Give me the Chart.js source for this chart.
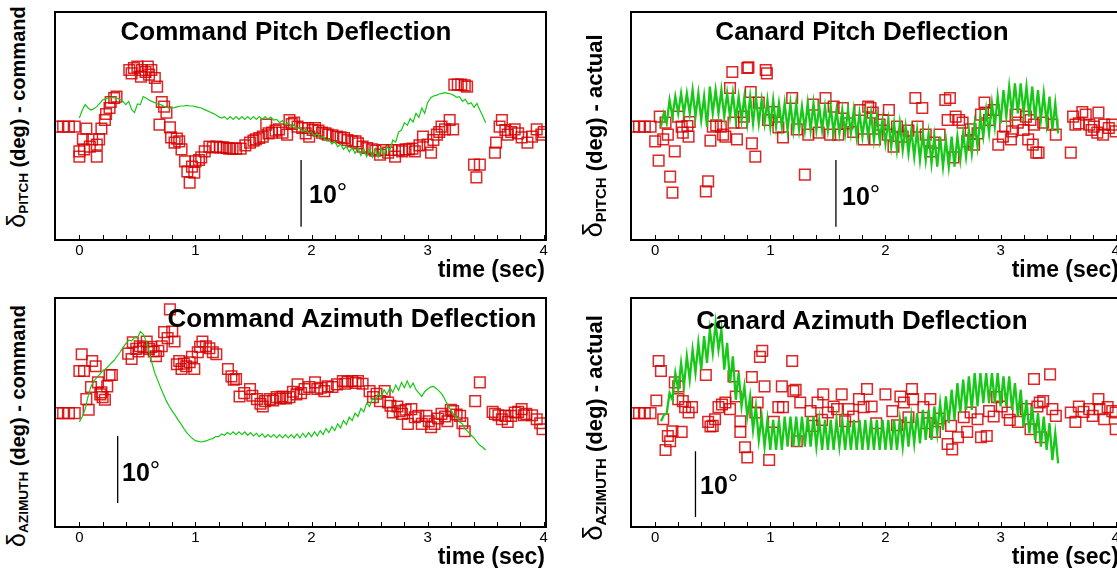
<!DOCTYPE html>
<html>
<head>
<meta charset="utf-8">
<script src="https://cdn.jsdelivr.net/npm/chart.js@4"></script>
<style>
  body { margin: 0; width: 1117px; height: 568px; overflow: hidden; background: #fff;
         font-family: 'Liberation Sans', Arial, sans-serif; color: #000; }
  canvas { position: absolute; }
  .title { position: absolute; font-weight: bold; font-size: 26px; line-height: 26px; white-space: nowrap; transform: translateX(-50%); }
  .xlab { position: absolute; font-weight: bold; font-size: 23px; line-height: 23px; white-space: nowrap; transform: translateX(-100%); }
  .bar { position: absolute; font-weight: bold; font-size: 25px; line-height: 25px; white-space: nowrap; }
  .bar span { font-weight: normal; font-size: 26px; vertical-align: 2px; }
  .ylab { position: absolute; font-weight: bold; font-size: 20px; line-height: 20px; white-space: nowrap;
          transform: translate(-50%, -50%) rotate(-90deg); }
  .ylab.r { font-size: 22px; line-height: 22px; }
  .ylab .d { font-weight: normal; font-size: 1.25em; }
  .ylab sub { font-size: 0.68em; vertical-align: -0.25em; }
</style>
</head>
<body>
<canvas id="c1" width="511" height="264" style="left:45px;top:2px"></canvas>
<canvas id="c2" width="507" height="264" style="left:621px;top:2px"></canvas>
<canvas id="c3" width="511" height="265" style="left:45px;top:288px"></canvas>
<canvas id="c4" width="507" height="265" style="left:621px;top:288px"></canvas>

<div class="title" style="left:286px;top:18px">Command Pitch Deflection</div>
<div class="title" style="left:862px;top:18px">Canard Pitch Deflection</div>
<div class="title" style="left:352px;top:305px">Command Azimuth Deflection</div>
<div class="title" style="left:862px;top:307px">Canard Azimuth Deflection</div>

<div class="xlab" style="left:545px;top:258px">time (sec)</div>
<div class="xlab" style="left:1119px;top:258px">time (sec)</div>
<div class="xlab" style="left:545px;top:545px">time (sec)</div>
<div class="xlab" style="left:1119px;top:545px">time (sec)</div>

<div class="bar" style="left:309px;top:180px">10<span>°</span></div>
<div class="bar" style="left:842px;top:182px">10<span>°</span></div>
<div class="bar" style="left:122px;top:458px">10<span>°</span></div>
<div class="bar" style="left:700px;top:471px">10<span>°</span></div>

<div class="ylab" style="left:20px;top:117px"><span class="d">δ</span><sub>PITCH</sub> (deg) - command</div>
<div class="ylab r" style="left:597px;top:136px"><span class="d">δ</span><sub>PITCH</sub> (deg) - actual</div>
<div class="ylab" style="left:20px;top:426px"><span class="d">δ</span><sub>AZIMUTH</sub> (deg) - command</div>
<div class="ylab r" style="left:597px;top:428px"><span class="d">δ</span><sub>AZIMUTH</sub> (deg) - actual</div>

<script>
/* ---------- data (time in sec, deflection in deg) ---------- */
const tickValues = [0, 0.2, 0.4, 0.6, 0.8, 1, 1.2, 1.4, 1.6, 1.8, 2, 2.2, 2.4, 2.6, 2.8, 3, 3.2, 3.4, 3.6, 3.8, 4];
const lineStep = 0.025;

// command pitch: measured squares + green line (from t = 0)
const cmdPitchSquares = [
  [-0.19,0],[-0.14,0],[-0.09,0],[-0.04,0],
  [0.0,-3.7],[0.0,-4.5],[0.03,-1.9],[0.04,-3.4],[0.06,-0.3],[0.09,-3],[0.11,-1.9],[0.15,-2.7],[0.15,-4.5],
  [0.17,-1.9],[0.19,-0.3],[0.22,1],[0.23,1.9],[0.26,2.8],[0.27,3.7],[0.30,4.3],[0.32,4.5],
  [0.43,8.5],[0.45,8.0],[0.47,8.8],[0.5,9],[0.53,7.5],[0.54,8.5],[0.57,8.2],[0.59,9],[0.6,7.8],[0.62,8.5],
  [0.65,7.3],[0.67,6],[0.69,0.3],[0.71,3.7],[0.73,3],[0.75,2.1],[0.78,-0.1],[0.79,-1.6],[0.82,-2.4],
  [0.84,-1.8],[0.86,-2.2],[0.88,-3.4],[0.91,-5.2],[0.93,-6.7],[0.95,-8.4],[0.97,-6.0],[0.99,-6.9],[1.0,-5.2],
  [1.03,-5.0],[1.05,-4.6],[1.08,-3.7],[1.12,-3],[1.15,-3.1],[1.18,-3],[1.21,-3.1],[1.24,-3.1],[1.27,-3.2],
  [1.29,-3.3],[1.32,-3.3],[1.35,-3.3],[1.39,-3.3],[1.43,-2.8],[1.47,-2.4],[1.5,-2.1],[1.52,-1.9],[1.55,-1.7],
  [1.58,-1.5],[1.61,0.3],[1.63,-1.0],[1.66,-0.9],[1.69,-0.6],[1.72,-0.4],[1.75,-0.9],[1.79,-1.2],[1.81,1],
  [1.83,0.4],[1.85,0.6],[1.88,0],[1.92,-0.2],[1.95,-1.0],[1.97,-0.2],[1.98,-1.5],[2.01,-0.5],[2.03,-0.2],
  [2.06,-0.6],[2.09,-0.9],[2.12,-1.0],[2.14,-1.2],[2.18,-1.3],[2.22,-1.5],[2.25,-1.6],[2.28,-1.7],[2.31,-2.0],
  [2.35,-2.2],[2.38,-2.2],[2.4,-2.5],[2.44,-3.0],[2.48,-3.2],[2.52,-3.4],[2.55,-3.6],[2.59,-4.2],[2.62,-3.5],
  [2.66,-3.9],[2.69,-3.5],[2.72,-4.5],[2.75,-3.5],[2.78,-3.7],[2.81,-3.4],[2.84,-3.4],[2.87,-3.3],[2.89,-3.7],
  [2.93,-2.8],[2.96,-1.5],[3.0,-2.7],[3.03,-3.9],[3.05,-2.0],[3.08,-1.2],[3.1,-0.8],[3.12,0],[3.15,-0.4],
  [3.19,1],[3.22,-0.4],[3.23,6.3],[3.26,6.3],[3.29,6.3],[3.32,6.2],[3.34,6],[3.4,-5.7],[3.42,-7.6],[3.45,-5.7],
  [3.58,-3.9],[3.59,-2.4],[3.62,0],[3.64,1],[3.67,-0.5],[3.69,-1.2],[3.72,-0.8],[3.75,-0.4],[3.78,-1.0],
  [3.81,-1.6],[3.86,-2.4],[3.9,-1.5],[3.94,-0.4],[3.98,-1.2],[4.0,-0.8]
];
const cmdPitchLineStart = 0;
const cmdPitchLine = [
  1.3, 2.5, 3.3, 2.8, 2.5, 2.7, 3.0, 3.5, 4.0, 4.2,
  4.3, 4.4, 4.3, 4.3, 4.1, 3.8, 3.3, 3.8, 2.6, 2.1,
  3.4, 3.3, 4.5, 4.3, 4.0, 3.8, 3.6, 3.4, 3.3, 3.1,
  2.9, 2.8, 2.8, 2.9, 3.0, 3.1, 3.1, 3.2, 3.1, 3.1,
  3.0, 2.9, 2.8, 2.6, 2.4, 2.2, 2.0, 1.8, 1.5, 1.3,
  1.5, 1.1, 1.5, 1.1, 1.5, 1.1, 1.5, 1.1, 1.5, 1.1,
  1.5, 1.1, 1.5, 1.1, 1.5, 1.1, 1.4, 1.0, 1.1, 0.6,
  0.9, 0.3, 0.6, 0.0, 0.2, -0.3, -0.1, -0.7, -0.4, -1.0,
  -0.8, -1.4, -1.0, -1.7, -1.5, -2.1, -1.9, -2.6, -2.2, -3.0,
  -2.6, -3.4, -2.9, -3.8, -3.1, -4.0, -3.2, -4.3, -3.3, -4.5,
  -3.3, -4.6, -3.3, -4.6, -3.2, -4.4, -3.0, -3.6, -2.0, -2.3,
  -0.8, -0.5, 0.6, 0.2, 1.2, 0.7, 2.0, 1.4, 2.8, 2.0,
  3.6, 4.3, 4.6, 4.7, 4.9, 5.0, 5.1, 5.0, 4.9, 4.7,
  4.4, 4.5, 3.8, 4.1, 3.4, 3.6, 2.9, 3.5, 2.5, 1.6,
  0.6
];
const cmdPitchBar = [[1.91, -5], [1.91, -15]];

// canard pitch (actual)
const canardPitchSquares = [
  [-0.19,0],[-0.14,0],[-0.09,0],[-0.04,0],
  [0,-2.2],[0.03,-5.1],[0.04,1.5],[0.07,-1.9],[0.09,0.6],[0.11,-1.2],[0.13,-7.5],[0.15,-9.9],[0.17,-3.7],
  [0.2,1.5],[0.23,0],[0.24,-0.9],[0.28,0.1],[0.29,-1.5],[0.3,0.7],[0.44,-9.7],[0.46,-8.2],[0.48,-2.1],
  [0.5,0],[0.53,0.2],[0.57,0],[0.59,-1.2],[0.61,-1.5],[0.65,5.8],[0.67,8.2],[0.68,0.6],[0.71,-1.9],
  [0.75,0.6],[0.77,1.5],[0.8,8.8],[0.81,8.9],[0.83,5.2],[0.84,-2.5],[0.87,-4.5],[0.9,3.6],[0.96,8.5],
  [0.97,8],[0.98,1],[1.03,2.2],[1.07,-0.1],[1.11,-1.6],[1.19,4.3],[1.23,-0.4],[1.3,-7.2],[1.33,-1.2],
  [1.37,3.3],[1.42,-0.9],[1.48,4.3],[1.52,-1.2],[1.55,3],[1.59,-1.2],[1.63,2.8],[1.67,0.5],[1.72,-0.8],
  [1.78,2.5],[1.81,-1.9],[1.85,3],[1.87,2.8],[1.89,2.1],[1.91,-1.9],[1.95,0.3],[1.98,1],[2.02,-1.2],
  [2.03,2.5],[2.07,-3],[2.1,0],[2.15,-1.5],[2.2,-0.6],[2.26,4.3],[2.28,0],[2.32,2.8],[2.35,-1.2],
  [2.39,-3.7],[2.42,-2.4],[2.47,-1.2],[2.52,4],[2.54,1],[2.56,4.3],[2.59,-4.6],[2.61,1.5],[2.64,1.0],
  [2.67,0.6],[2.71,-2.2],[2.74,-0.4],[2.77,-2.7],[2.8,-1.0],[2.83,1.8],[2.86,3.6],[2.87,2.1],[2.9,1],
  [2.94,2.5],[2.98,-2.7],[3.02,-1.5],[3.04,0],[3.09,-1.9],[3.1,-0.7],[3.13,1.8],[3.15,0.6],[3.2,-0.5],
  [3.22,1.5],[3.24,-1.9],[3.26,1],[3.28,-2.7],[3.29,0.3],[3.31,-3.9],[3.33,-3.9],[3.37,0.6],[3.45,0.3],
  [3.48,-1.2],[3.61,-3.9],[3.63,1.5],[3.65,0.3],[3.68,0.5],[3.71,2.2],[3.74,1.8],[3.77,0.3],[3.79,-0.5],
  [3.81,0],[3.84,-0.9],[3.85,2.1],[3.89,-1.2],[3.9,0.3],[3.94,-0.2],[3.97,0.3],[4.0,-0.7]
];
const canardPitchLineStart = 0.05;
const canardPitchLine = [
  0, 2, 0.5, 4, 1.5, 4.5, 2, 5, 2, 5,
  2, 5.5, 1.5, 5, 1, 4.5, 0, 6, 2, 5.5,
  2, 5.5, 1.5, 5, 1.5, 5, 1, 4.5, 1, 4.5,
  0.5, 4.5, 0.5, 4.5, 0.5, 4, 0.5, 4, 0, 4,
  0, 3.5, 0, 3.5, -0.5, 3.5, -0.5, 3.5, -0.5, 3,
  -0.5, 3.5, -0.5, 3.5, -0.5, 3, -0.5, 3, -0.5, 3,
  -1, 2.5, -1, 2.5, -1, 2.5, -1, 2.5, -1.5, 2,
  -1.5, 2, -1.5, 2, -2, 1.5, -2, 1, -2.5, 1,
  -3, 0.5, -3.5, 0.5, -3.5, 0, -4, -0.5, -4.5, -0.5,
  -5, -1, -5, -1, -5.5, -1.5, -6, -1.5, -6, -2,
  -6, -1.5, -6, -1.5, -5, -1, -4.5, -0.5, -4, 0.5,
  -3, 1.5, -1.5, 2.5, -1, 3.5, 0, 4.5, 0.5, 5.5,
  1.5, 6, 2, 6.5, 2, 6.5, 2, 6, 1.5, 6,
  1, 5.5, 1, 5, 0.5, 4.5, -0.5, 3.5, -1
];
const canardPitchBar = [[1.57, -5], [1.57, -15]];

// command azimuth
const cmdAzimSquares = [
  [-0.19,0],[-0.14,0],[-0.09,0],[-0.04,0],
  [0,6.3],[0.02,8.8],[0.04,6.3],[0.06,2.1],[0.08,0.5],[0.1,3.9],[0.11,7.8],[0.14,7],[0.16,4.6],[0.18,2.8],
  [0.19,3.1],[0.2,2.4],[0.22,2.0],[0.24,4],[0.26,5.7],[0.28,5.7],
  [0.42,8.9],[0.45,8.1],[0.46,10.6],[0.49,9.6],[0.51,9.2],[0.52,10],[0.55,9.8],[0.58,10.7],[0.6,9.6],
  [0.62,9.9],[0.64,9.2],[0.66,8.5],[0.68,9.3],[0.71,10],[0.73,12.1],[0.76,11.2],[0.78,15.5],[0.8,12.2],
  [0.82,10.7],[0.84,7.3],[0.86,7.8],[0.88,6.6],[0.9,7.4],[0.92,7],[0.95,7.6],[0.97,8.4],[0.99,6.6],
  [1.02,9.1],[1.04,9.9],[1.06,10.7],[1.09,10],[1.12,9.7],[1.15,9.1],[1.18,8.8],[1.28,6.6],[1.31,5.5],
  [1.33,5.0],[1.35,5.1],[1.38,2.5],[1.42,3.0],[1.47,3.6],[1.49,2.6],[1.53,2.1],[1.56,1.4],[1.58,1],
  [1.6,1.8],[1.64,2.1],[1.67,1.9],[1.7,2.4],[1.73,2.2],[1.75,2.5],[1.78,2.2],[1.81,2.4],[1.84,3.2],
  [1.87,2.8],[1.88,4.3],[1.91,3.0],[1.94,3.6],[1.98,3.9],[2.03,4.6],[2.05,3.6],[2.08,3.8],[2.11,3.3],
  [2.14,4],[2.18,3.9],[2.22,4.3],[2.27,4.8],[2.29,4.4],[2.31,4.7],[2.35,4.8],[2.38,4.5],[2.4,4.8],
  [2.44,4.4],[2.5,3.3],[2.53,2.4],[2.56,2.9],[2.59,1.8],[2.63,3.3],[2.66,1.6],[2.68,1.1],[2.7,0.1],
  [2.74,1],[2.76,0.3],[2.78,-0.1],[2.81,0.5],[2.83,-1.6],[2.86,0.6],[2.89,-0.6],[2.92,-0.4],[2.95,-1.6],
  [2.99,-0.4],[3.01,-1.2],[3.03,-2.1],[3.06,-1.6],[3.09,-0.8],[3.12,-0.1],[3.15,-0.5],[3.17,-1.2],
  [3.2,0.5],[3.22,0.3],[3.25,-0.2],[3.28,-0.4],[3.3,-1.5],[3.32,-2.7],[3.41,1.8],[3.45,4.6],[3.56,0.2],
  [3.58,-0.1],[3.61,-0.3],[3.64,-0.9],[3.67,-0.4],[3.69,-1.3],[3.72,-0.4],[3.75,0.1],[3.78,0.2],
  [3.81,0.6],[3.83,-0.3],[3.85,-0.1],[3.9,-0.3],[3.94,-0.9],[3.97,-1.5],[3.99,-2.4]
];
const cmdAzimLineStart = 0;
const cmdAzimLine = [
  -1.3, -0.5, 0.6, 2.5, 4.0, 4.8, 5.3, 5.8, 6.3, 6.6,
  7.0, 7.5, 7.9, 8.5, 9.1, 9.8, 10.4, 10.9, 10.8, 11.3,
  11.2, 12.2, 11.8, 10.8, 9.2, 7.5, 6.0, 4.9, 3.8, 2.8,
  1.8, 1.0, 0.3, -0.3, -1.0, -1.6, -2.3, -2.9, -3.4, -3.8,
  -4.1, -4.2, -4.3, -4.2, -4.1, -3.9, -3.8, -3.5, -3.5, -3.1,
  -3.3, -2.9, -3.2, -2.8, -3.2, -2.8, -3.2, -2.8, -3.3, -2.9,
  -3.4, -3.0, -3.5, -3.1, -3.6, -3.2, -3.6, -3.2, -3.7, -3.2,
  -3.7, -3.2, -3.7, -3.2, -3.7, -3.1, -3.7, -3.0, -3.6, -2.9,
  -3.5, -2.8, -3.4, -2.6, -3.2, -2.3, -2.9, -2.0, -2.6, -1.6,
  -2.2, -1.1, -1.7, -0.6, -1.1, 0.0, -0.5, 0.7, 0.2, 1.5,
  1.0, 2.2, 1.8, 2.9, 2.4, 3.5, 2.8, 3.8, 3.1, 4.2,
  3.4, 4.6, 3.8, 4.8, 3.8, 4.5, 3.5, 3.0, 2.5, 3.2,
  3.6, 3.9, 4.0, 3.7, 3.3, 2.8, 2.0, 1.2, 0.5, -0.2,
  -0.6, -1.3, -1.6, -2.4, -2.8, -3.3, -3.7, -4.3, -4.8, -5.1,
  -5.5
];
const cmdAzimBar = [[0.33, -3.4], [0.33, -13.4]];

// canard azimuth (actual)
const canardAzimSquares = [
  [-0.19,0],[-0.14,0],[-0.09,0],[-0.04,0],
  [0.01,1.9],[0.03,7.8],[0.05,6.3],[0.07,-0.9],[0.09,-5.5],[0.11,-3.4],[0.13,-4.2],[0.15,-2.7],[0.17,4.6],
  [0.2,4],[0.2,2.1],[0.23,-2.8],[0.24,1.8],[0.26,0.9],[0.29,0.1],[0.32,0.9],[0.44,5.7],[0.46,-1.3],
  [0.48,-2.0],[0.5,-1.9],[0.52,-0.9],[0.55,0.9],[0.58,1.3],[0.61,1.6],[0.65,0.6],[0.68,5.5],[0.7,2.5],
  [0.74,-1.2],[0.74,-2.8],[0.78,-5.1],[0.8,-6.6],[0.84,5.4],[0.87,0.1],[0.89,1.6],[0.91,8.4],[0.93,9.3],
  [0.95,4],[0.99,-7],[1.03,-1.3],[1.07,0.9],[1.1,4],[1.11,0.9],[1.19,7.8],[1.2,3.3],[1.22,3.5],[1.23,-4.2],
  [1.26,1.6],[1.35,0.3],[1.37,-1.9],[1.41,1.6],[1.45,-1.0],[1.46,2.8],[1.5,0.1],[1.55,1],[1.58,0.6],
  [1.62,2.8],[1.65,-1.2],[1.68,0.6],[1.72,-0.5],[1.77,2.1],[1.81,0.9],[1.84,3.6],[1.88,1.0],[1.92,-1.5],
  [2.0,2.8],[2.06,0.3],[2.1,-1.8],[2.13,2.5],[2.16,1.6],[2.2,-0.6],[2.23,3.6],[2.24,2.1],[2.33,0.9],
  [2.36,-1.5],[2.39,2.1],[2.43,-2.8],[2.47,-0.8],[2.54,-4.6],[2.57,-1.9],[2.58,-5.4],[2.63,-3.6],
  [2.68,-0.6],[2.71,-2.8],[2.74,0.1],[2.8,-0.9],[2.83,-3.6],[2.88,-3.4],[2.9,0.3],[2.94,-0.5],[2.97,2.4],
  [3.01,1],[3.06,0.1],[3.08,-1.0],[3.15,-1.3],[3.22,0.6],[3.26,-2.4],[3.29,5.1],[3.32,1],[3.34,1.6],
  [3.35,-3.6],[3.37,1.8],[3.43,5.8],[3.45,0.6],[3.48,-0.4],[3.61,0.1],[3.65,-1.3],[3.68,1],[3.72,0.2],
  [3.77,0.6],[3.8,-0.4],[3.85,2.1],[3.86,0.6],[3.9,-0.9],[3.93,0.9],[3.97,0.3],[4.0,0.1],[4.0,-2.4]
];
const canardAzimLineStart = 0.05;
const canardAzimLine = [
  -1.2, -0.3, 0, 3, 2, 6, 3.5, 7.5, 4, 8.5,
  5, 9.5, 6, 10.5, 6.5, 11.5, 7.5, 12.5, 9, 13.5,
  9.5, 12.5, 6.5, 10.5, 4.5, 8.5, 2, 6, 1, 4,
  -0.5, 2.5, -2.5, 1, -4, -0.5, -5, -1, -5.5, -1,
  -5.5, -1, -5.5, -0.5, -5, -0.5, -5, -0.5, -5, -0.5,
  -5, -0.5, -5, -0.5, -5, -1, -5.5, -1, -5.5, -1,
  -5.5, -1, -5, -1, -5.5, -1, -5.5, -1, -5.5, -1,
  -5.5, -1, -5.5, -1, -5.5, -1, -5.5, -1, -5.5, -1,
  -5.5, -1, -5.5, -1, -5, -0.5, -5, -0.5, -4.5, 0,
  -4.5, 0.5, -4, 0.5, -4, 1, -3, 1.5, -2.5, 2.5,
  -1.5, 3.5, -1, 4.5, 0, 5, 0.5, 5.5, 0.5, 6,
  1, 6, 1.5, 6, 1.5, 6, 1.5, 6, 1, 5.5,
  1, 5.5, 0.5, 4.5, -0.5, 3.5, -2, 2, -3, 1,
  -4, 0, -5, -0.5, -5.5, -1.5, -7, -3, -7.5
];
const canardAzimBar = [[0.35, -5.7], [0.35, -15.5]];

/* ---------- drawing ---------- */
Chart.defaults.font.family = "'Liberation Sans', Arial, sans-serif";

// frame around the plot box and small inward ticks on the time axis
const framePlugin = {
    id: 'frame',
    afterDraw(chart) {
        const { ctx, chartArea: a, scales } = chart;
        ctx.save();
        ctx.strokeStyle = '#000';
        ctx.lineWidth = 1;
        tickValues.forEach(v => {
            const x = Math.round(scales.x.getPixelForValue(v)) + 0.5;
            ctx.beginPath();
            ctx.moveTo(x, a.bottom);
            ctx.lineTo(x, a.bottom - 5);
            ctx.stroke();
        });
        ctx.lineWidth = 2;
        ctx.strokeRect(a.left, a.top, a.right - a.left, a.bottom - a.top);
        ctx.restore();
    }
};

const toXY = p => ({ x: p[0], y: p[1] });

function makePanel(id, squares, line, lineStart, lineWidth, bar) {
    const lineData = line.map((v, i) => ({ x: lineStart + i * lineStep, y: v }));
    new Chart(document.getElementById(id), {
        type: 'scatter',
        data: {
            datasets: [
                {
                    data: lineData, showLine: true, pointRadius: 0,
                    borderColor: '#18c818', borderWidth: lineWidth, tension: 0
                },
                {
                    data: squares.map(toXY), pointStyle: 'rect', pointRadius: 7.5,
                    borderColor: 'rgba(215,0,0,0.85)', borderWidth: 1.5,
                    backgroundColor: 'rgba(0,0,0,0)'
                },
                {
                    data: bar.map(toXY), showLine: true, pointRadius: 0,
                    borderColor: '#000', borderWidth: 1.3
                }
            ]
        },
        options: {
            responsive: false,
            animation: false,
            events: [],
            layout: { padding: { left: 10, right: 10, top: 10, bottom: 0 } },
            plugins: { legend: { display: false }, tooltip: { enabled: false } },
            scales: {
                x: {
                    type: 'linear', min: -0.21, max: 4.02,
                    afterBuildTicks: s => { s.ticks = tickValues.map(v => ({ value: v })); },
                    afterFit: s => { s.height = 26; },
                    ticks: {
                        callback: v => Number.isInteger(v) ? String(v) : '',
                        autoSkip: false, maxRotation: 0, padding: 2,
                        color: '#000', font: { size: 15 }
                    },
                    grid: { display: false, drawTicks: false },
                    border: { display: false }
                },
                y: { display: false, min: -17, max: 17.2 }
            }
        },
        plugins: [framePlugin]
    });
}

makePanel('c1', cmdPitchSquares, cmdPitchLine, cmdPitchLineStart, 1.2, cmdPitchBar);
makePanel('c2', canardPitchSquares, canardPitchLine, canardPitchLineStart, 2.3, canardPitchBar);
makePanel('c3', cmdAzimSquares, cmdAzimLine, cmdAzimLineStart, 1.2, cmdAzimBar);
makePanel('c4', canardAzimSquares, canardAzimLine, canardAzimLineStart, 2.3, canardAzimBar);
</script>
</body>
</html>
